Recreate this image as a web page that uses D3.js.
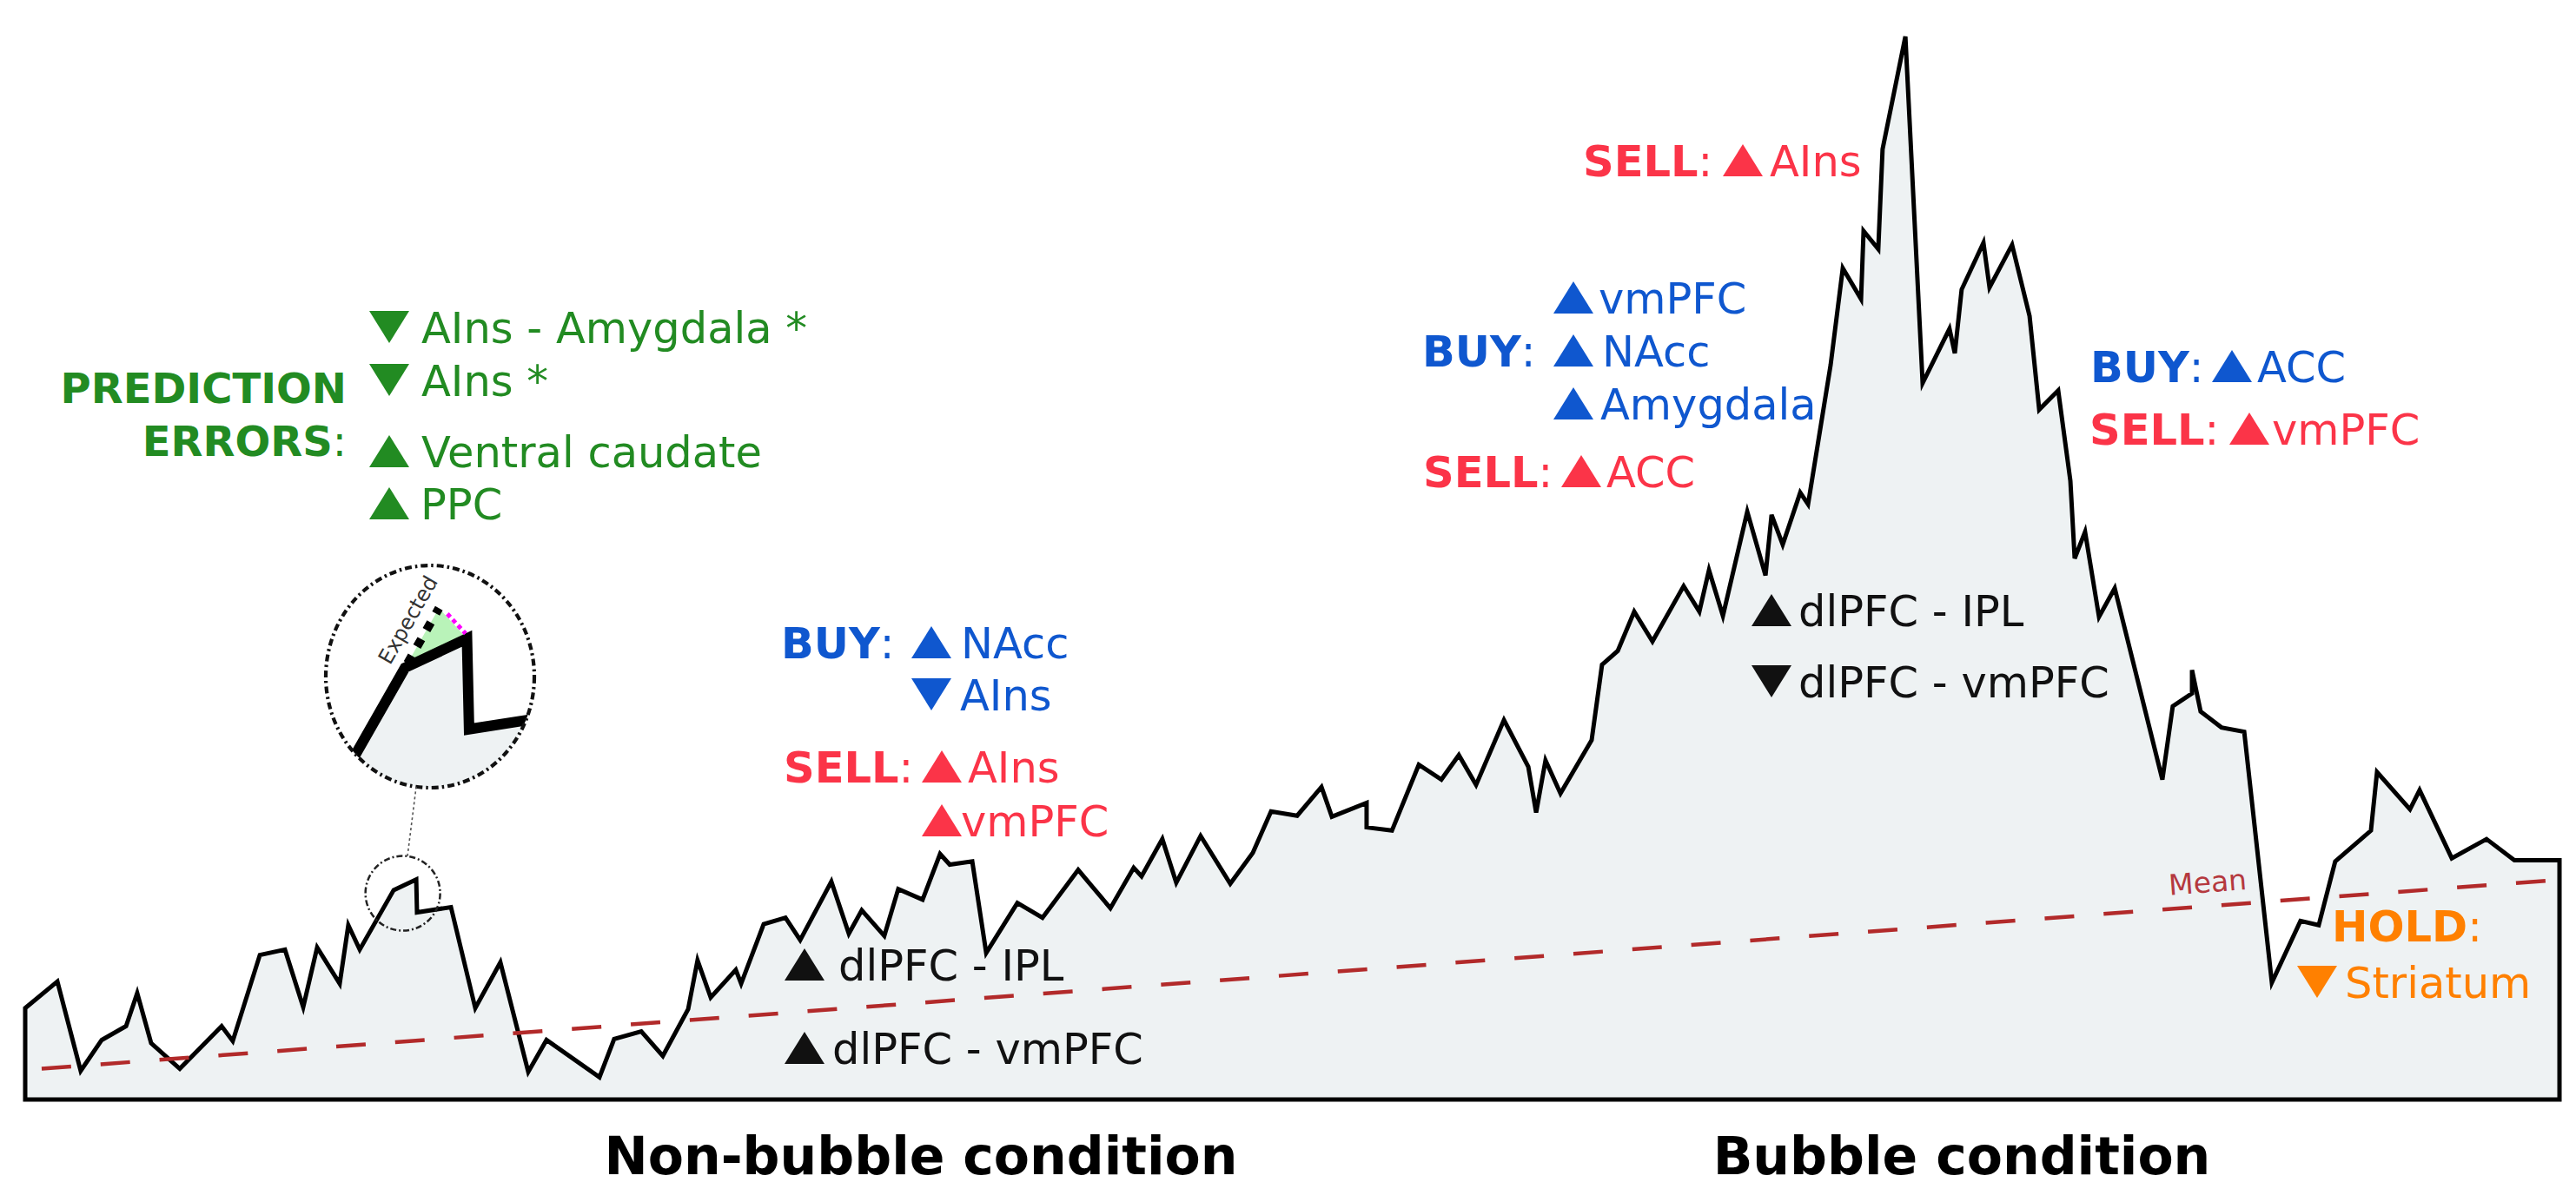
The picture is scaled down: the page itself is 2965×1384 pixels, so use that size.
<!DOCTYPE html>
<html>
<head>
<meta charset="utf-8">
<script src="https://cdn.jsdelivr.net/npm/d3@7"></script>
<style>
  body { margin: 0; background: #fff; }
  text { font-family: "DejaVu Sans", sans-serif; }
</style>
</head>
<body>
<svg id="chart"></svg>
<script>
// price path (time in % of session, price in % of peak)
const priceT = [0,1.27,2.19,3.02,3.98,4.42,4.97,6.10,7.75,8.19,
  9.26,10.25,10.97,11.52,12.41,12.75,13.20,14.54,15.43,15.46,
  16.80,17.76,18.75,19.85,20.57,22.66,23.24,24.31,25.16,26.16,
  26.53,27.05,28.04,28.25,29.14,30.00,30.58,31.81,32.50,33.01,
  33.90,34.45,35.41,36.10,36.48,37.37,37.92,39.15,40.14,41.55,
  42.82,43.74,44.05,44.87,45.42,46.38,47.55,48.44,49.16,50.19,
  51.15,51.56,52.93,52.93,53.93,54.99,55.88,56.57,57.25,58.35,
  59.31,59.62,59.99,60.58,61.81,62.22,62.84,63.49,64.21,65.44,
  66.06,66.44,66.99,67.95,68.67,68.91,69.35,70.04,70.35,71.24,
  71.72,72.44,72.54,73.12,73.29,74.19,74.87,75.93,76.14,76.41,
  77.27,77.51,78.40,79.09,79.47,80.22,80.70,80.87,81.28,81.83,
  82.45,84.33,84.74,85.50,85.50,85.84,86.66,87.56,88.65,89.78,
  90.50,91.15,92.56,92.80,94.10,94.48,95.75,97.12,98.22,100];
const priceV = [8.6,11.1,2.7,5.6,6.9,10.0,5.3,2.9,6.9,5.5,
  13.6,14.1,8.7,14.3,10.9,16.4,14.1,19.7,20.7,17.6,
  18.1,8.6,12.9,2.6,5.6,2.1,5.7,6.4,4.1,8.5,
  13.1,9.6,12.2,10.9,16.5,17.1,15.0,20.5,15.6,17.8,
  15.4,19.8,18.8,23.1,22.1,22.4,13.8,18.5,17.1,21.6,
  18.0,21.8,21.0,24.5,20.4,24.8,20.3,23.2,27.1,26.7,
  29.4,26.6,27.9,25.6,25.3,31.5,30.1,32.4,29.6,35.7,
  31.3,27.0,31.9,28.8,33.8,40.9,42.2,45.9,43.1,48.3,
  45.9,49.8,45.5,55.3,49.3,55.0,52.2,57.1,56.0,69.1,
  78.2,75.3,81.7,80.0,89.4,100.0,67.4,72.5,70.2,76.2,
  80.6,76.4,80.4,73.7,64.9,66.7,58.2,50.9,53.4,45.4,
  48.1,30.1,37.0,38.2,40.4,36.5,35.0,34.6,11.0,16.8,
  16.4,22.4,25.3,30.8,27.3,29.1,22.7,24.5,22.5,22.5];

// fundamental value (mean) trend
const meanT = [0.65, 99.6];
const meanV = [2.9, 20.6];

// zoomed spot: centre of the small circle, and the step that is magnified
const zoomFocus = { t: 14.9, v: 19.4 };
const zoomStep = 17; // index of the pivot point (prev = 16, actual = 18)

// annotation texts
const predErrItems = [["down", "AIns - Amygdala *"], ["down", "AIns *"], ["up", "Ventral caudate"], ["up", "PPC"]];
const nbBuy = [["up", "NAcc"], ["down", "AIns"]];
const nbSell = [["up", "AIns"], ["up", "vmPFC"]];
const nbConn = [["up", "dlPFC - IPL"], ["up", "dlPFC - vmPFC"]];
const bBuy = [["up", "vmPFC"], ["up", "NAcc"], ["up", "Amygdala"]];
const bSellMid = [["up", "ACC"]];
const bSellPeak = [["up", "AIns"]];
const bConn = [["up", "dlPFC - IPL"], ["down", "dlPFC - vmPFC"]];
const lateBuy = [["up", "ACC"]];
const lateSell = [["up", "vmPFC"]];
const holdItems = [["down", "Striatum"]];
const conditionLabels = ["Non-bubble condition", "Bubble condition"];

const W = 2965, H = 1384;
const FILL = "#eef2f3";
const GREEN = "#228b22", BLUE = "#0f57cf", RED = "#fb3448", ORANGE = "#ff8000", BLACK = "#111";
const MEAN = "#b22a2a";

const svg = d3.select("#chart")
  .attr("width", W).attr("height", H)
  .attr("viewBox", `0 0 ${W} ${H}`);
svg.append("rect").attr("width", W).attr("height", H).attr("fill", "#fff");

let x = d3.scaleLinear().domain([0, 100]).range([29, 2946]);
let y = d3.scaleLinear().domain([0, 100]).range([1266, 42]);

let data = priceT.map((t, i) => ({ t: t, v: priceV[i] }));
let area = d3.area()
  .x(d => x(d.t))
  .y0(y(0))
  .y1(d => y(d.v));

// main price area
svg.append("path")
  .attr("d", area(data))
  .attr("fill", FILL)
  .attr("stroke", "#000")
  .attr("stroke-width", 5)
  .attr("stroke-linejoin", "miter")
  .attr("stroke-miterlimit", 4);

// mean line
let meanData = meanT.map((t, i) => ({ t: t, v: meanV[i] }));
let meanLine = d3.line().x(d => x(d.t)).y(d => y(d.v));
svg.append("path")
  .attr("d", meanLine(meanData))
  .attr("fill", "none")
  .attr("stroke", MEAN)
  .attr("stroke-width", 4.5)
  .attr("stroke-dasharray", "34,34");

let meanSlope = (meanV[1] - meanV[0]) / (meanT[1] - meanT[0]);
let meanAngle = Math.atan2(y(meanV[1]) - y(meanV[0]), x(meanT[1]) - x(meanT[0])) * 180 / Math.PI;
let mt = x.invert(2497);
let mv = meanV[0] + meanSlope * (mt - meanT[0]);
svg.append("text")
  .attr("transform", `translate(${x(mt)},${y(mv) - 16}) rotate(${meanAngle})`)
  .attr("font-size", 33)
  .attr("fill", "#b5393e")
  .text("Mean");

// ---- magnified inset ----
let fx = x(zoomFocus.t), fy = y(zoomFocus.v);
let bigC = { x: 495, y: 779, rx: 120, ry: 128 };
let K = 2.75;
let mag = p => [bigC.x + K * (p[0] - fx), bigC.y + K * (p[1] - fy)];
let pt = d => [x(d.t), y(d.v)];

let Q = pt(data[zoomStep - 1]), P = pt(data[zoomStep]), A = pt(data[zoomStep + 1]);
let dirLen = Math.hypot(P[0] - Q[0], P[1] - Q[1]);
let stepLen = Math.hypot(A[0] - P[0], A[1] - P[1]);
let E = [P[0] + (P[0] - Q[0]) / dirLen * stepLen, P[1] + (P[1] - Q[1]) / dirLen * stepLen];
let mP = mag(P), mE = mag(E), mA = mag(A);

svg.append("defs").append("clipPath").attr("id", "insetClip")
  .append("ellipse")
  .attr("cx", bigC.x).attr("cy", bigC.y).attr("rx", bigC.rx).attr("ry", bigC.ry);

let inset = svg.append("g").attr("clip-path", "url(#insetClip)");
inset.append("path")
  .attr("d", d3.line()([mP, mE, mA]) + "Z")
  .attr("fill", "#b9f3b9");
inset.append("g")
  .attr("transform", `translate(${bigC.x},${bigC.y}) scale(${K}) translate(${-fx},${-fy})`)
  .append("path")
  .attr("d", area(data))
  .attr("fill", FILL)
  .attr("stroke", "#000")
  .attr("stroke-width", 4.4)
  .attr("stroke-linejoin", "miter");
inset.append("line")
  .attr("x1", mP[0]).attr("y1", mP[1]).attr("x2", mE[0]).attr("y2", mE[1])
  .attr("stroke", "#000").attr("stroke-width", 10).attr("stroke-dasharray", "10,12")
  .attr("stroke-dashoffset", -6);
let lerp = (a, b, f) => [a[0] + (b[0] - a[0]) * f, a[1] + (b[1] - a[1]) * f];
let m1 = lerp(mE, mA, 0.3), m2 = lerp(mE, mA, 0.95);
inset.append("line")
  .attr("x1", m1[0]).attr("y1", m1[1] - 4).attr("x2", m2[0]).attr("y2", m2[1] - 4)
  .attr("stroke", "#ff00ff").attr("stroke-width", 5).attr("stroke-dasharray", "5,4");

let ang = Math.atan2(mE[1] - mP[1], mE[0] - mP[0]);
let ex = lerp(mP, mE, 0.63);
let nx = Math.sin(ang), ny = -Math.cos(ang);
svg.append("text")
  .attr("transform", `translate(${ex[0] + nx * 16},${ex[1] + ny * 16}) rotate(${ang * 180 / Math.PI})`)
  .attr("text-anchor", "middle")
  .attr("font-size", 24)
  .attr("fill", "#333")
  .text("Expected");

svg.append("ellipse")
  .attr("cx", bigC.x).attr("cy", bigC.y).attr("rx", bigC.rx).attr("ry", bigC.ry)
  .attr("fill", "none").attr("stroke", BLACK)
  .attr("stroke-width", 4.2).attr("stroke-dasharray", "8,4,2.5,4");

let smallR = 43;
svg.append("circle")
  .attr("cx", fx).attr("cy", fy).attr("r", smallR)
  .attr("fill", "none").attr("stroke", "#222")
  .attr("stroke-width", 2.5).attr("stroke-dasharray", "7,3,2,3");

// connector between the two circles
let ux = bigC.x - fx, uy = bigC.y - fy, ul = Math.hypot(ux, uy);
ux /= ul; uy /= ul;
let th = Math.atan2(uy, ux);
let er = bigC.rx * bigC.ry / Math.hypot(bigC.ry * Math.cos(th), bigC.rx * Math.sin(th));
svg.append("line")
  .attr("x1", fx + ux * smallR).attr("y1", fy + uy * smallR)
  .attr("x2", bigC.x - ux * er).attr("y2", bigC.y - uy * er)
  .attr("stroke", "#555").attr("stroke-width", 1.6).attr("stroke-dasharray", "3,3");

// ---- annotations ----
const blocks = [
  { items: predErrItems, color: GREEN, triX: 448, rows: [{ y: 395, tx: 485 }, { y: 456, tx: 485 }, { y: 538, tx: 485 }, { y: 598, tx: 484 }] },
  { label: "BUY", lx: 899, ly: 758, items: nbBuy, color: BLUE, triX: 1072, rows: [{ y: 758, tx: 1106 }, { y: 818, tx: 1105 }] },
  { label: "SELL", lx: 902, ly: 901, items: nbSell, color: RED, triX: 1084, rows: [{ y: 901, tx: 1114 }, { y: 963, tx: 1106 }] },
  { items: nbConn, color: BLACK, triX: 926, rows: [{ y: 1129, tx: 965 }, { y: 1225, tx: 958 }] },
  { label: "BUY", lx: 1637, ly: 422, items: bBuy, color: BLUE, triX: 1811, rows: [{ y: 361, tx: 1840 }, { y: 422, tx: 1844 }, { y: 483, tx: 1842 }] },
  { label: "SELL", lx: 1638, ly: 561, items: bSellMid, color: RED, triX: 1820, rows: [{ y: 561, tx: 1849 }] },
  { label: "SELL", lx: 1822, ly: 203, items: bSellPeak, color: RED, triX: 2006, rows: [{ y: 203, tx: 2037 }] },
  { items: bConn, color: BLACK, triX: 2039, rows: [{ y: 721, tx: 2070 }, { y: 803, tx: 2070 }] },
  { label: "BUY", lx: 2406, ly: 440, items: lateBuy, color: BLUE, triX: 2569, rows: [{ y: 440, tx: 2598 }] },
  { label: "SELL", lx: 2405, ly: 512, items: lateSell, color: RED, triX: 2589, rows: [{ y: 512, tx: 2615 }] },
  { label: "HOLD", lx: 2684, ly: 1084, items: holdItems, color: ORANGE, triX: 2667, rows: [{ y: 1149, tx: 2699 }] }
];

const FS = 49.5, TW = 46, THt = 37;

function triangle(cx, base, dir) {
  if (dir === "up") {
    return `M${cx - TW / 2},${base}L${cx + TW / 2},${base}L${cx},${base - THt}Z`;
  }
  return `M${cx - TW / 2},${base - THt}L${cx + TW / 2},${base - THt}L${cx},${base}Z`;
}

function boldLabel(g, word, lx, ly, color, anchor, size) {
  let t = g.append("text")
    .attr("x", lx).attr("y", ly)
    .attr("font-size", size || FS)
    .attr("fill", color)
    .attr("text-anchor", anchor || "start");
  t.append("tspan").attr("font-weight", "bold").text(word);
  t.append("tspan").text(":");
}

let annos = svg.append("g");
blocks.forEach(b => {
  if (b.label) boldLabel(annos, b.label, b.lx, b.ly, b.color);
  b.items.forEach((it, i) => {
    let r = b.rows[i];
    annos.append("path").attr("d", triangle(b.triX, r.y, it[0])).attr("fill", b.color);
    annos.append("text")
      .attr("x", r.tx).attr("y", r.y)
      .attr("font-size", FS)
      .attr("fill", b.color)
      .text(it[1]);
  });
});

// two-line label of the prediction errors block
annos.append("text")
  .attr("x", 399).attr("y", 464)
  .attr("text-anchor", "end")
  .attr("font-size", 48).attr("font-weight", "bold")
  .attr("fill", GREEN)
  .text("PREDICTION");
boldLabel(annos, "ERRORS", 399, 525, GREEN, "end", 48);

// condition titles
svg.selectAll("text.cond")
  .data(conditionLabels)
  .enter().append("text")
  .attr("class", "cond")
  .attr("x", (d, i) => [1060, 2258][i])
  .attr("y", 1352)
  .attr("text-anchor", "middle")
  .attr("font-size", 60)
  .attr("font-weight", "bold")
  .attr("fill", "#000")
  .text(d => d);
</script>
</body>
</html>
